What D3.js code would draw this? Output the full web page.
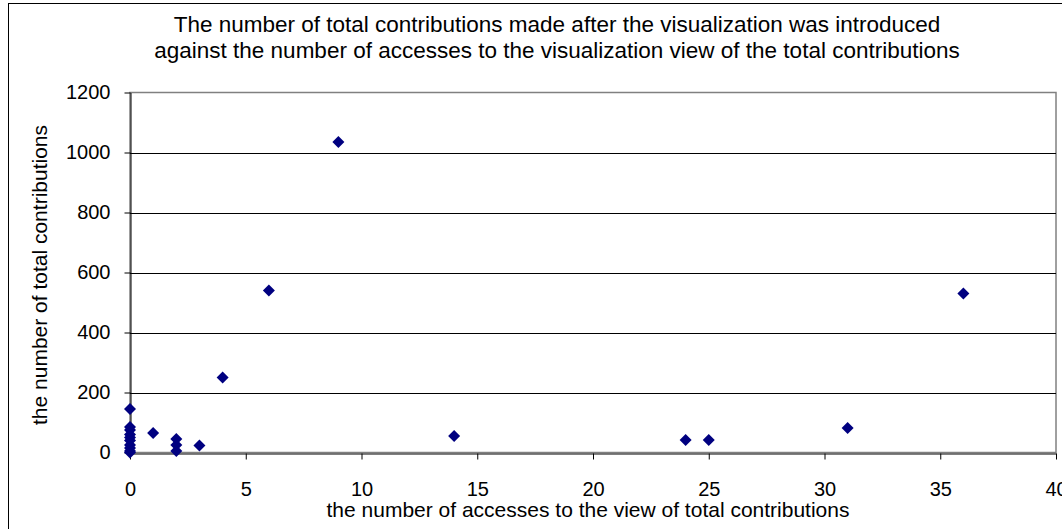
<!DOCTYPE html>
<html>
<head>
<meta charset="utf-8">
<script src="https://cdn.jsdelivr.net/npm/d3@7"></script>
<style>
  html, body { margin: 0; padding: 0; background: #fff; }
  svg { display: block; font-family: "Liberation Sans", Arial, sans-serif; }
</style>
</head>
<body>
<svg id="chart" width="1062" height="529"></svg>
<script>
// Accesses to the total-contributions view (x) and total contributions made (y)
const accesses      = [0, 0, 0, 0, 0, 0, 0, 0, 0, 0, 1, 2, 2, 2, 3, 4, 6, 9, 14, 24, 25, 31, 36];
const contributions = [145, 85, 75, 60, 50, 40, 25, 15, 5, 0, 65, 45, 25, 5, 23, 250, 540, 1035, 55, 42, 42, 82, 530];

const xTicks = [0, 5, 10, 15, 20, 25, 30, 35, 40];
const yTicks = [0, 200, 400, 600, 800, 1000, 1200];

const titleLines = [
  "The number of total contributions made after the visualization was introduced",
  "against the number of accesses to the visualization view of the total contributions"
];
const xLabel = "the number of accesses to the view of total contributions";
const yLabel = "the number of total contributions";

const svg = d3.select("#chart");
const plot = { left: 130, right: 1056, top: 92.5, bottom: 452.5 };

const x = d3.scaleLinear().domain([0, 40]).range([plot.left, plot.right]);
const y = d3.scaleLinear().domain([0, 1200]).range([plot.bottom, plot.top]);

// Chart frame
svg.append("rect")
  .attr("x", 8.5).attr("y", 3.5)
  .attr("width", 1100).attr("height", 600)
  .attr("fill", "#fff").attr("stroke", "#000").attr("stroke-width", 1);

// Plot area border (grey, top and right)
svg.append("rect")
  .attr("x", plot.left).attr("y", plot.top)
  .attr("width", plot.right - plot.left).attr("height", plot.bottom - plot.top)
  .attr("fill", "#fff").attr("stroke", "#808080").attr("stroke-width", 1.5);

// Horizontal gridlines
svg.append("g").selectAll("line")
  .data(yTicks.filter(d => d > 0 && d < 1200))
  .join("line")
  .attr("x1", plot.left).attr("x2", plot.right)
  .attr("y1", d => Math.round(y(d)) + 0.5).attr("y2", d => Math.round(y(d)) + 0.5)
  .attr("stroke", "#000").attr("stroke-width", 1);

// Axes
const xAxis = svg.append("g")
  .attr("transform", `translate(0,${Math.round(plot.bottom) + 0.5})`)
  .call(d3.axisBottom(x).tickValues(xTicks).tickFormat(d3.format("d"))
    .tickSize(6).tickPadding(22).tickSizeOuter(0));
const yAxis = svg.append("g")
  .attr("transform", `translate(${plot.left + 0.5},0)`)
  .call(d3.axisLeft(y).tickValues(yTicks).tickFormat(d3.format("d"))
    .tickSize(6).tickPadding(14).tickSizeOuter(0));

[xAxis, yAxis].forEach(g => {
  g.select(".domain").attr("stroke", "#000").attr("stroke-width", 1);
  g.selectAll(".tick line").attr("stroke", "#000");
  g.selectAll(".tick text")
    .attr("fill", "#000")
    .style("font-family", "'Liberation Sans', Arial, sans-serif")
    .style("font-size", "20px");
});

// Data points as diamonds
svg.append("g").selectAll("path")
  .data(accesses.map((a, i) => [a, contributions[i]]))
  .join("path")
  .attr("transform", d => `translate(${x(d[0])},${y(d[1])})`)
  .attr("d", "M0,-6L6,0L0,6L-6,0Z")
  .attr("fill", "#000080");

// Title
svg.append("text")
  .attr("text-anchor", "middle")
  .attr("font-size", 22.5)
  .selectAll("tspan")
  .data(titleLines)
  .join("tspan")
  .attr("x", 557)
  .attr("y", (d, i) => 31.5 + i * 26)
  .text(d => d);

// Axis titles
svg.append("text")
  .attr("x", 588).attr("y", 517)
  .attr("text-anchor", "middle")
  .attr("font-size", 21)
  .text(xLabel);

svg.append("text")
  .attr("transform", "translate(47,275) rotate(-90)")
  .attr("text-anchor", "middle")
  .attr("font-size", 21)
  .text(yLabel);
</script>
</body>
</html>
